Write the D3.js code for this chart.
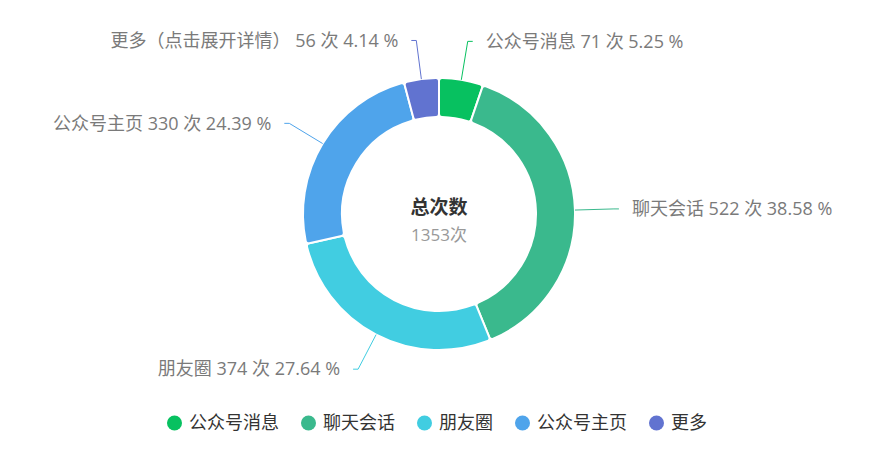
<!DOCTYPE html>
<html>
<head>
<meta charset="utf-8">
<script src="https://cdn.jsdelivr.net/npm/d3@7/dist/d3.min.js"></script>
<style>
  body{margin:0;background:#fff;}
  svg{display:block;font-family:"Open Sans","Noto Sans CJK SC",sans-serif;}
</style>
</head>
<body>
<svg id="chart"></svg>
<script>
// data
var names=["公众号消息","聊天会话","朋友圈","公众号主页","更多"];
var labelNames=["公众号消息","聊天会话","朋友圈","公众号主页","更多（点击展开详情）"];
var counts=[71,522,374,330,56];
var colors=["#07c160","#3ab98d","#41cde1","#4fa4eb","#6173d0"];
var centerTitle="总次数";
var unit="次";

var drawChart=function(w,h)
{
  var svg=d3.select("#chart")
            .attr("width",w)
            .attr("height",h);

  var cx=439,cy=214;
  var outerR=136,innerR=97;

  var total=d3.sum(counts);
  var data=names.map(function(n,i){
    return {name:n,label:labelNames[i],value:counts[i],color:colors[i]};
  });

  var pie=d3.pie()
            .sort(null)
            .value(function(d){return d.value;});
  var arcs=pie(data);

  var arc=d3.arc()
            .innerRadius(innerR)
            .outerRadius(outerR)
            .cornerRadius(3);

  var plot=svg.append("g")
              .attr("transform","translate("+cx+","+cy+")");

  plot.selectAll("path.slice")
      .data(arcs)
      .enter()
      .append("path")
      .classed("slice",true)
      .attr("d",arc)
      .attr("fill",function(d){return d.data.color;})
      .attr("stroke","#fff")
      .attr("stroke-width",2);

  //label lines + labels
  var lineR=175;
  var pt=function(a,r){return [Math.sin(a)*r,-Math.cos(a)*r];};

  var labels=plot.selectAll("g.lbl")
                 .data(arcs)
                 .enter()
                 .append("g")
                 .classed("lbl",true);

  labels.each(function(d){
    var g=d3.select(this);
    var a=(d.startAngle+d.endAngle)/2;
    var left=Math.sin(a)<0;
    var p1=pt(a,outerR);
    var p2=pt(a,lineR);
    var p3=[p2[0]+(left?-5:5),p2[1]];
    g.append("polyline")
     .attr("points",[p1,p2,p3].map(function(p){return p.join(",");}).join(" "))
     .attr("fill","none")
     .attr("stroke",d.data.color)
     .attr("stroke-width",1);
    var pct=(d.data.value/total*100).toFixed(2);
    g.append("text")
     .attr("x",p3[0]+(left?-13:13))
     .attr("y",p3[1])
     .attr("dy","0.35em")
     .attr("text-anchor",left?"end":"start")
     .attr("fill","#7a7a7a")
     .style("font-size","18px")
     .text(d.data.label+" "+d.data.value+" "+unit+" "+pct+" %");
  });

  //center text
  plot.append("text")
      .attr("x",0)
      .attr("y",-7)
      .attr("dy","0.35em")
      .attr("text-anchor","middle")
      .attr("fill","#333")
      .style("font-size","19px")
      .style("font-weight","bold")
      .text(centerTitle);
  plot.append("text")
      .attr("x",0)
      .attr("y",21)
      .attr("dy","0.35em")
      .attr("text-anchor","middle")
      .attr("fill","#999")
      .style("font-size","17px")
      .text(total+unit);

  //legend
  var legend=svg.append("g")
                .classed("legend",true)
                .attr("transform","translate(167,423)");
  var xPos=0;
  data.forEach(function(d){
    var item=legend.append("g")
                   .attr("transform","translate("+xPos+",0)");
    item.append("circle")
        .attr("cx",7.5)
        .attr("cy",0)
        .attr("r",7.5)
        .attr("fill",d.color);
    var t=item.append("text")
              .attr("x",22)
              .attr("y",0)
              .attr("dy","0.35em")
              .attr("fill","#333")
              .style("font-size","18px")
              .text(d.name);
    xPos+=22+t.node().getComputedTextLength()+22;
  });
};

drawChart(887,453);
</script>
</body>
</html>
